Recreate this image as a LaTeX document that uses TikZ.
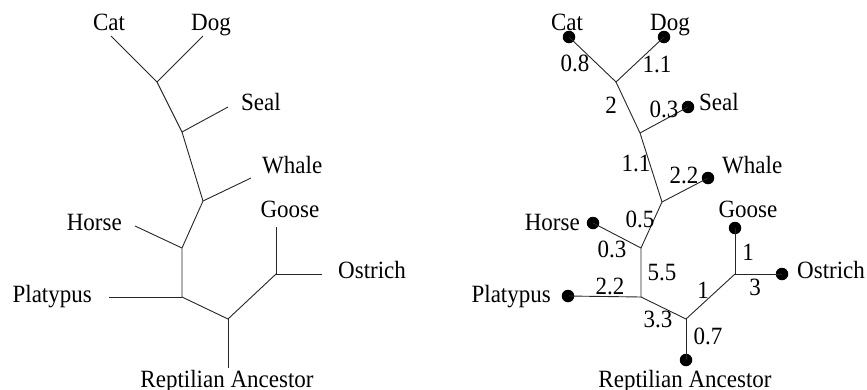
\documentclass[tikz,border=0pt]{standalone}
\usepackage{graphicx}
\usepackage{fontspec}
\setmainfont{Liberation Serif}
\newcommand{\tallt}[1]{\scalebox{1}[1.08]{#1}}
\begin{document}
\begin{tikzpicture}[x=1pt,y=-1pt,
  edge/.style={line width=0.9pt,black!85},
  lbl/.style={inner sep=0pt,font=\fontsize{23}{26}\selectfont},
  wt/.style={inner sep=0pt,anchor=base,font=\fontsize{23}{26}\selectfont},
  leafdot/.style={circle,fill=black,inner sep=0pt,minimum size=12.5pt}]
\useasboundingbox (0,0) rectangle (867,389);
% ---------- left tree ----------
\begin{scope}[name prefix=L-]
\coordinate (cd) at (157,82);
\coordinate (s) at (182,132);
\coordinate (w) at (203,201);
\coordinate (h) at (182,248);
\coordinate (p) at (182,297);
\coordinate (r) at (228,319);
\coordinate (go) at (276,274);
\coordinate (cat) at (111,36);
\coordinate (dog) at (203,36);
\coordinate (seal) at (228,107);
\coordinate (whale) at (251,178);
\coordinate (horse) at (135,226);
\coordinate (plat) at (109,297);
\coordinate (root) at (228,368);
\coordinate (goose) at (276,227);
\coordinate (ostrich) at (322,274);
\draw[edge] (cat) -- (cd) -- (dog);
\draw[edge] (cd) -- (s) -- (w) -- (h) -- (p) -- (r) -- (go);
\draw[edge] (s) -- (seal);
\draw[edge] (w) -- (whale);
\draw[edge] (h) -- (horse);
\draw[edge] (p) -- (plat);
\draw[edge] (r) -- (root);
\draw[edge] (go) -- (goose);
\draw[edge] (go) -- (ostrich);
\node[lbl,anchor=base] (tcat) at (109,30) {\tallt{Cat}};
\node[lbl,anchor=base] (tdog) at (211,30) {\tallt{Dog}};
\node[lbl,anchor=base west] (tseal) at (241,110) {\tallt{Seal}};
\node[lbl,anchor=base west] (twhale) at (262,173) {\tallt{Whale}};
\node[lbl,anchor=base east] (thorse) at (122,230) {\tallt{Horse}};
\node[lbl,anchor=base] (tgoose) at (290,217) {\tallt{Goose}};
\node[lbl,anchor=base west] (tostrich) at (338,278) {\tallt{Ostrich}};
\node[lbl,anchor=base east] (tplat) at (92,302) {\tallt{Platypus}};
\node[lbl,anchor=base] (troot) at (227,387) {\tallt{Reptilian Ancestor}};
\end{scope}
% ---------- right tree ----------
\begin{scope}[name prefix=R-]
\coordinate (cd) at (616,82);
\coordinate (s) at (640,133);
\coordinate (w) at (662,202);
\coordinate (h) at (641,248);
\coordinate (p) at (641,297);
\coordinate (r) at (686,319);
\coordinate (go) at (735,274);
\node[leafdot] (cat) at (569,37) {};
\node[leafdot] (dog) at (664,37) {};
\node[leafdot] (seal) at (688,107) {};
\node[leafdot] (whale) at (708,178) {};
\node[leafdot] (horse) at (593,223) {};
\node[leafdot] (plat) at (568,296) {};
\node[leafdot] (root) at (686,360) {};
\node[leafdot] (goose) at (735,228) {};
\node[leafdot] (ostrich) at (782,274) {};
\draw[edge] (cat.center) -- (cd) -- (dog.center);
\draw[edge] (cd) -- (s) -- (w) -- (h) -- (p) -- (r) -- (go);
\draw[edge] (s) -- (seal.center);
\draw[edge] (w) -- (whale.center);
\draw[edge] (h) -- (horse.center);
\draw[edge] (p) -- (plat.center);
\draw[edge] (r) -- (root.center);
\draw[edge] (go) -- (goose.center);
\draw[edge] (go) -- (ostrich.center);
\node[lbl,anchor=base] (tcat) at (567,30) {\tallt{Cat}};
\node[lbl,anchor=base] (tdog) at (670,30) {\tallt{Dog}};
\node[lbl,anchor=base west] (tseal) at (699,110) {\tallt{Seal}};
\node[lbl,anchor=base west] (twhale) at (722,173) {\tallt{Whale}};
\node[lbl,anchor=base east] (thorse) at (580,230) {\tallt{Horse}};
\node[lbl,anchor=base] (tgoose) at (748,217) {\tallt{Goose}};
\node[lbl,anchor=base west] (tostrich) at (797,278) {\tallt{Ostrich}};
\node[lbl,anchor=base east] (tplat) at (551,302) {\tallt{Platypus}};
\node[lbl,anchor=base] (troot) at (685,387) {\tallt{Reptilian Ancestor}};
% weights
\node[wt] (w1) at (575,71) {\tallt{0.8}};
\node[wt] (w2) at (657,72) {\tallt{1.1}};
\node[wt] (w3) at (611,113) {\tallt{2}};
\node[wt] (w4) at (664,117) {\tallt{0.3}};
\node[wt] (w5) at (636,171) {\tallt{1.1}};
\node[wt] (w6) at (684,183) {\tallt{2.2}};
\node[wt] (w7) at (640,227) {\tallt{0.5}};
\node[wt] (w8) at (612,257) {\tallt{0.3}};
\node[wt] (w9) at (662,280) {\tallt{5.5}};
\node[wt] (w10) at (610,294) {\tallt{2.2}};
\node[wt] (w11) at (658,327) {\tallt{3.3}};
\node[wt] (w12) at (708,344) {\tallt{0.7}};
\node[wt] (w13) at (703,298) {\tallt{1}};
\node[wt] (w14) at (748,260) {\tallt{1}};
\node[wt] (w15) at (755,295) {\tallt{3}};
\end{scope}
\end{tikzpicture}
\end{document}
